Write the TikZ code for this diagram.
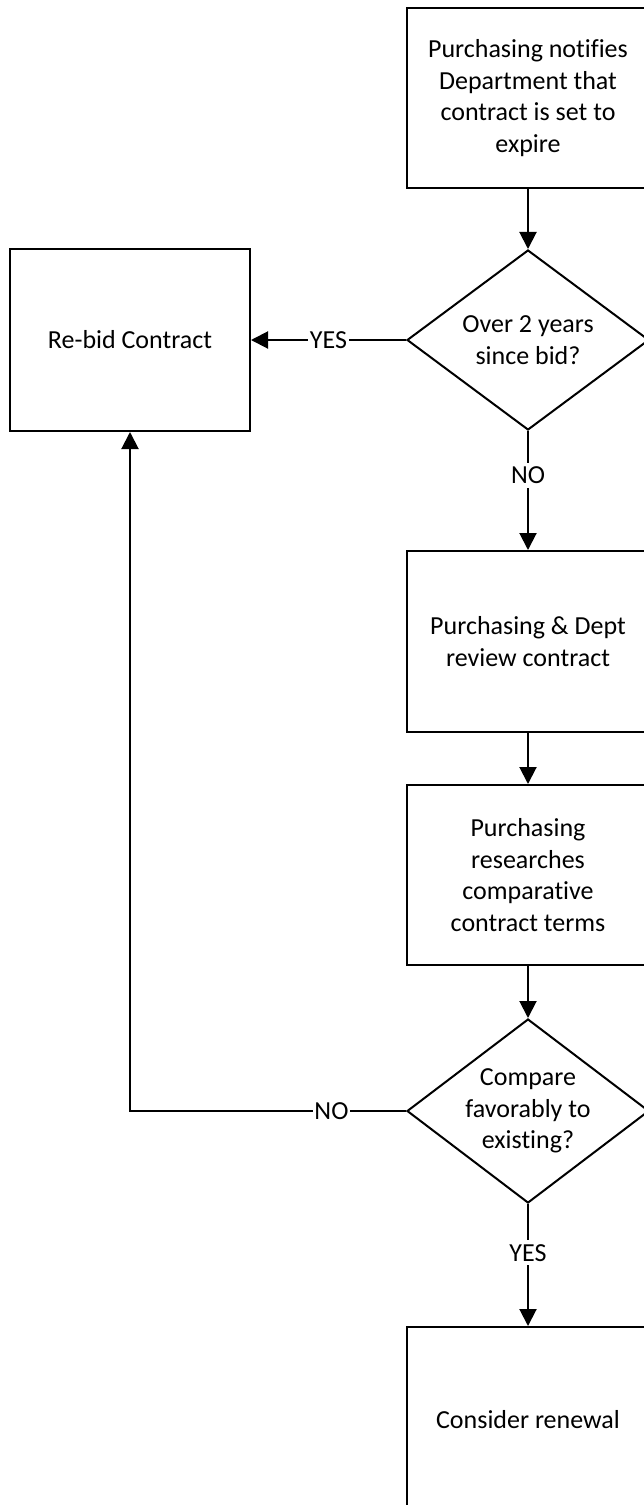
\documentclass[tikz,border=0pt]{standalone}
\usepackage{fontspec}
\setmainfont{Carlito}[Ligatures=NoCommon]
\usetikzlibrary{arrows.meta,shapes.geometric}
\begin{document}
\begin{tikzpicture}[x=1pt,y=1pt,
  every node/.style={font=\fontsize{26}{31.7}\selectfont},
  proc/.style={draw, line width=2pt, minimum width=242pt, minimum height=180pt, inner sep=0pt},
  dec/.style={draw, shape=diamond, line width=2pt, minimum width=242pt, minimum height=182pt, inner sep=0pt},
  txt/.style={align=center, inner sep=0pt},
  arr/.style={line width=2pt, -{Triangle[length=17pt,width=17pt]}},
  lbl/.style={fill=white, inner xsep=1.5pt, inner ysep=4pt}]
\useasboundingbox (0,0) rectangle (644,-1505);
\clip (0,0) rectangle (644,-1505);
% process boxes
\node[proc] (notify) at (528,-98) {};
\node[txt] (notifyT) at (notify.center) {Purchasing notifies\\Department that\\contract is set to\\expire};
\node[proc, minimum width=240pt, minimum height=182pt] (rebid) at (130,-340) {};
\node[txt] (rebidT) at (rebid.center) {Re-bid Contract};
\node[proc, minimum height=181pt] (review) at (528,-641.5) {};
\node[txt] (reviewT) at (review.center) {Purchasing \& Dept\\review contract};
\node[proc] (research) at (528,-875) {};
\node[txt] (researchT) at (research.center) {Purchasing\\researches\\comparative\\contract terms};
\node[proc, minimum height=186pt] (renew) at (528,-1420) {};
\node[txt] (renewT) at (renew.center) {Consider renewal};
% decisions
\node[dec, minimum height=180pt] (age) at (528,-340) {};
\node[txt] (ageT) at (age.center) {Over 2 years\\since bid?};
\node[dec, minimum height=184pt] (cmp) at (528,-1111) {};
\node[txt] (cmpT) at (cmp.center) {Compare\\favorably to\\existing?};
% connectors
\draw[arr] (notify) -- (age);
\draw[arr] (age.west) -- node[lbl, pos=0.5] {YES} (rebid.east);
\draw[arr] (age.south) -- node[lbl, pos=0.37] {NO} (review.north);
\draw[arr] (review) -- (research);
\draw[arr] (research) -- (cmp);
\draw[arr] (cmp.west) -- node[lbl, pos=0.27] {NO} (rebid.south |- cmp.west) -- (rebid.south);
\draw[arr] (cmp.south) -- node[lbl, pos=0.40] {YES} (renew.north);
\end{tikzpicture}
\end{document}
